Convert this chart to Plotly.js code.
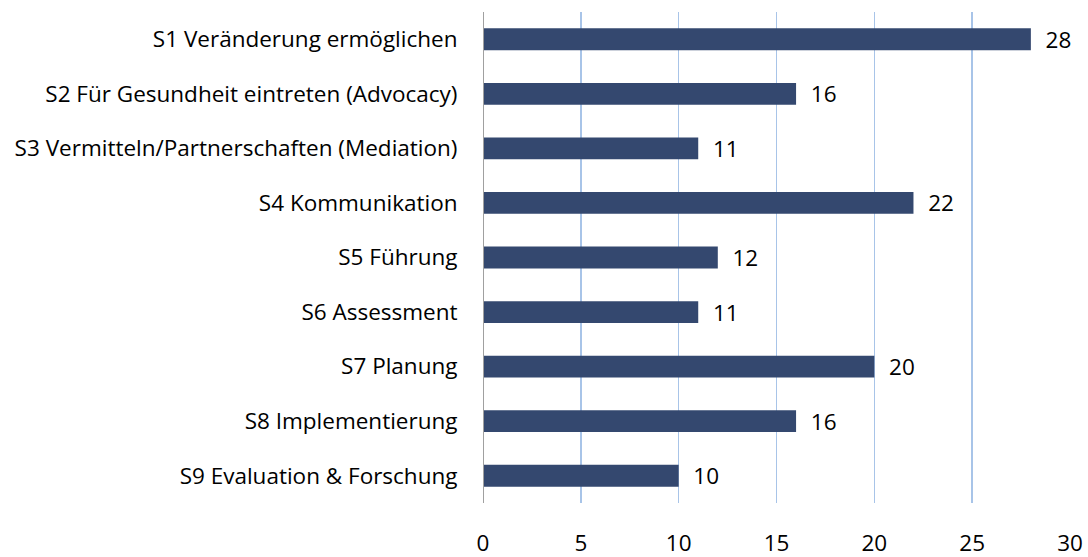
<!DOCTYPE html>
<html>
<head>
<meta charset="utf-8">
<script src="https://cdn.plot.ly/plotly-3.0.1.min.js"></script>
<style>html,body{margin:0;padding:0;background:#fff;}#chart{width:1088px;height:557px;}</style>
</head>
<body>
<div id="chart"></div>
<script>
const categories = [
  "S1 Veränderung ermöglichen",
  "S2 Für Gesundheit eintreten (Advocacy)",
  "S3 Vermitteln/Partnerschaften (Mediation)",
  "S4 Kommunikation",
  "S5 Führung",
  "S6 Assessment",
  "S7 Planung",
  "S8 Implementierung",
  "S9 Evaluation & Forschung"
];
const values = [28, 16, 11, 22, 12, 11, 20, 16, 10];
const xTicks = [0, 5, 10, 15, 20, 25, 30];

const FONT = 'Open Sans, sans-serif';
const FS = 22.5;

const trace = {
  type: 'bar',
  orientation: 'h',
  y: categories,
  x: values,
  marker: {color: '#34486F'},
  text: values.map(v => '\u00a0\u00a0' + v),
  textposition: 'outside',
  constraintext: 'none',
  cliponaxis: false,
  textfont: {family: FONT, size: FS, color: '#000'},
  hoverinfo: 'none'
};

const layout = {
  width: 1088, height: 557,
  margin: {l: 483, r: 18, t: 12, b: 54},
  paper_bgcolor: '#fff', plot_bgcolor: '#fff',
  bargap: 0.6,
  showlegend: false,
  font: {family: FONT, size: FS, color: '#000'},
  xaxis: {
    range: [0, 30],
    tickvals: xTicks,
    ticktext: xTicks.map(String),
    showgrid: true, gridcolor: '#A8C4E8', gridwidth: 1.6,
    zeroline: false,
    showline: false,
    ticks: 'outside', ticklen: 20, tickcolor: 'rgba(0,0,0,0)',
    tickfont: {size: FS}
  },
  yaxis: {
    autorange: 'reversed',
    categoryorder: 'array', categoryarray: categories,
    showgrid: false, zeroline: false,
    showline: false,
    ticks: 'outside', ticklen: 20, tickcolor: 'rgba(0,0,0,0)',
    tickfont: {size: FS}
  },
  shapes: [{
    type: 'line', xref: 'x', yref: 'paper', x0: 0, x1: 0, y0: 0, y1: 1,
    line: {color: '#A0A0A0', width: 2}
  }]
};

Plotly.newPlot('chart', [trace], layout, {staticPlot: true, displayModeBar: false});
</script>
</body>
</html>
